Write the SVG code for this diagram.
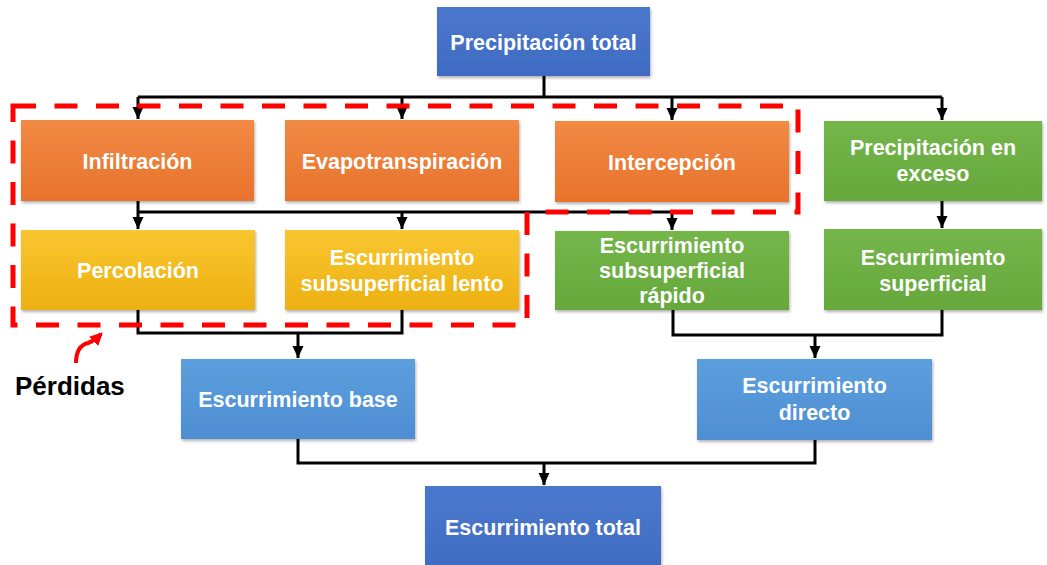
<svg xmlns="http://www.w3.org/2000/svg" width="1047" height="565" viewBox="0 0 1047 565">
<defs>
<linearGradient id="gOrange" x1="0" y1="0" x2="0" y2="1"><stop offset="0" stop-color="#F18A44"/><stop offset="1" stop-color="#E8722C"/></linearGradient>
<linearGradient id="gYellow" x1="0" y1="0" x2="0" y2="1"><stop offset="0" stop-color="#F9C630"/><stop offset="1" stop-color="#EDB012"/></linearGradient>
<linearGradient id="gGreen" x1="0" y1="0" x2="0" y2="1"><stop offset="0" stop-color="#74B64A"/><stop offset="1" stop-color="#66A83C"/></linearGradient>
<linearGradient id="gDark" x1="0" y1="0" x2="0" y2="1"><stop offset="0" stop-color="#4A78CC"/><stop offset="1" stop-color="#3F6BC2"/></linearGradient>
<linearGradient id="gLight" x1="0" y1="0" x2="0" y2="1"><stop offset="0" stop-color="#5C9FDD"/><stop offset="1" stop-color="#4E8ED3"/></linearGradient>
<filter id="sh" x="-10%" y="-10%" width="120%" height="130%"><feDropShadow dx="1" dy="2" stdDeviation="1.5" flood-color="#000" flood-opacity="0.3"/></filter>
<marker id="ah" viewBox="0 0 12 12" refX="12" refY="6" markerWidth="12" markerHeight="12" markerUnits="userSpaceOnUse" orient="auto"><path d="M0,0.5 L12,6 L0,11.5 Z" fill="#000"/></marker>
<marker id="rh" viewBox="0 0 10 10" refX="8" refY="5" markerWidth="13" markerHeight="13" markerUnits="userSpaceOnUse" orient="auto"><path d="M0,0 L10,5 L0,10 Z" fill="#FF0000"/></marker>
</defs>
<style>
.box{filter:url(#sh);}
.t{font-family:"Liberation Sans",Arial,sans-serif;font-weight:bold;font-size:21.5px;fill:#fff;text-anchor:middle;}
.c{fill:none;stroke:#000;stroke-width:3;}
.lbl{font-family:"Liberation Sans",Arial,sans-serif;font-weight:bold;font-size:26px;fill:#000;}
</style>
<rect width="1047" height="565" fill="#fff"/>

<g id="connectors">
<path class="c" d="M544,76 V97 M138,97 H942"/>
<path class="c" d="M138,97 V119" marker-end="url(#ah)"/>
<path class="c" d="M402,97 V119" marker-end="url(#ah)"/>
<path class="c" d="M672,97 V120" marker-end="url(#ah)"/>
<path class="c" d="M942,97 V120" marker-end="url(#ah)"/>
<path class="c" d="M138,201 V212 M138,212 H672"/>
<path class="c" d="M138,212 V229" marker-end="url(#ah)"/>
<path class="c" d="M402,212 V229" marker-end="url(#ah)"/>
<path class="c" d="M672,212 V230" marker-end="url(#ah)"/>
<path class="c" d="M942,201 V228" marker-end="url(#ah)"/>
<path class="c" d="M138,310 V333 H402 V310"/>
<path class="c" d="M298,333 V358" marker-end="url(#ah)"/>
<path class="c" d="M673,310 V335 H942 V310"/>
<path class="c" d="M815,335 V358" marker-end="url(#ah)"/>
<path class="c" d="M298,439 V463 H815 V440"/>
<path class="c" d="M544,463 V485" marker-end="url(#ah)"/>
</g>

<g id="n-precip-total"><rect class="box" x="437" y="7" width="213" height="69" fill="url(#gDark)"/><text class="t" x="543.5" y="50">Precipitación total</text></g>
<g id="n-infiltracion"><rect class="box" x="21" y="120" width="233" height="81" fill="url(#gOrange)"/><text class="t" x="137.5" y="169">Infiltración</text></g>
<g id="n-evapo"><rect class="box" x="285" y="120" width="234" height="81" fill="url(#gOrange)"/><text class="t" x="402" y="169">Evapotranspiración</text></g>
<g id="n-intercepcion"><rect class="box" x="555" y="121" width="234" height="81" fill="url(#gOrange)"/><text class="t" x="672" y="170">Intercepción</text></g>
<g id="n-precip-exceso"><rect class="box" x="824" y="121" width="218" height="80" fill="url(#gGreen)"/><text class="t" x="933" y="155">Precipitación en</text><text class="t" x="933" y="181">exceso</text></g>
<g id="n-percolacion"><rect class="box" x="21" y="230" width="234" height="80" fill="url(#gYellow)"/><text class="t" x="138" y="278">Percolación</text></g>
<g id="n-sub-lento"><rect class="box" x="285" y="230" width="234" height="80" fill="url(#gYellow)"/><text class="t" x="402" y="265">Escurrimiento</text><text class="t" x="402" y="291">subsuperficial lento</text></g>
<g id="n-sub-rapido"><rect class="box" x="555" y="231" width="234" height="79" fill="url(#gGreen)"/><text class="t" x="672" y="253">Escurrimiento</text><text class="t" x="672" y="278">subsuperficial</text><text class="t" x="672" y="303">rápido</text></g>
<g id="n-superficial"><rect class="box" x="824" y="229" width="218" height="81" fill="url(#gGreen)"/><text class="t" x="933" y="265">Escurrimiento</text><text class="t" x="933" y="291">superficial</text></g>
<g id="n-base"><rect class="box" x="181" y="359" width="234" height="80" fill="url(#gLight)"/><text class="t" x="298" y="407">Escurrimiento base</text></g>
<g id="n-directo"><rect class="box" x="697" y="359" width="235" height="81" fill="url(#gLight)"/><text class="t" x="814.5" y="393">Escurrimiento</text><text class="t" x="814.5" y="420">directo</text></g>
<g id="n-total"><rect class="box" x="425" y="486" width="236" height="90" fill="url(#gDark)"/><text class="t" x="543" y="535">Escurrimiento total</text></g>

<g id="perdidas">
<path d="M13,106 H798 V212 H527 V325 H13 Z" fill="none" stroke="#FF0000" stroke-width="5" stroke-dasharray="23 18.5"/>
<path d="M76,363 C76,352 80,345 88,343 C94,341 97,338 101,334" fill="none" stroke="#FF0000" stroke-width="4" marker-end="url(#rh)"/>
<text class="lbl" x="15" y="395">Pérdidas</text>
</g>
</svg>
